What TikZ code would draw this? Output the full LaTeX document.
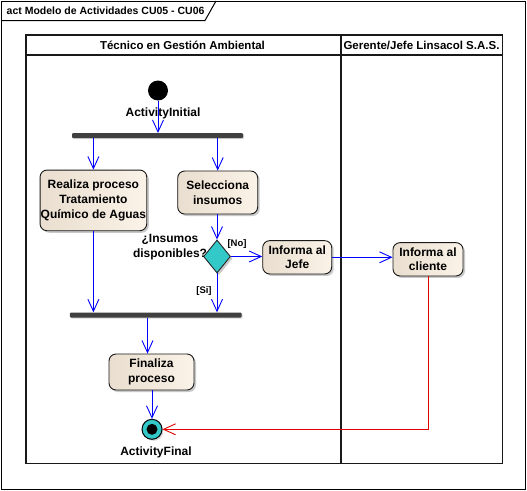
\documentclass[tikz,border=0pt]{standalone}
\usepackage{fontspec}
\setmainfont{Liberation Sans}
\usetikzlibrary{arrows.meta,shapes.geometric,shadows,calc}
\definecolor{actL}{HTML}{E9DECF}
\definecolor{actR}{HTML}{FBF3E8}
\definecolor{tealc}{HTML}{33C9C9}
\definecolor{barc}{HTML}{404040}
\definecolor{flowblue}{HTML}{0000FF}
\definecolor{flowred}{HTML}{E00000}
\begin{document}
\begin{tikzpicture}[x=1pt,y=-1pt,
  lbl/.style={font=\bfseries\fontsize{12}{14.8}\selectfont, align=center, inner sep=0},
  lanelbl/.style={font=\bfseries\fontsize{11.5}{13}\selectfont, inner sep=0},
  smalllbl/.style={font=\bfseries\fontsize{9.5}{11}\selectfont, inner sep=0},
  act/.style={draw=black!90, line width=0.9pt, rounded corners=7pt, left color=actL, right color=actR, lbl,
    drop shadow={shadow xshift=2pt, shadow yshift=-2pt, fill=black!35, opacity=0.6}},
  bar/.style={fill=barc, draw=none, inner sep=0, rounded corners=1pt, minimum height=5pt,
    drop shadow={shadow xshift=1pt, shadow yshift=-1pt, fill=black!30, opacity=0.5}},
  flow/.style={draw=flowblue, line width=0.9pt, -{Straight Barb[length=12pt,width=11pt]}},
  rflow/.style={draw=flowred, line width=0.9pt, -{Straight Barb[length=12pt,width=11pt]}},
  lane/.style={line width=1.1pt, draw=black!90}
]
\useasboundingbox (0,0) rectangle (527,490);
\fill[white] (0,0) rectangle (527,490);
% frame
\draw[line width=1pt] (1,1) rectangle (525.5,489);
\draw[line width=1pt] (1,20.5) -- (205,20.5) -- (216,1);
\node[anchor=west, font=\bfseries\fontsize{10.5}{12}\selectfont, inner sep=0] (title) at (6.5,11) {act Modelo de Actividades CU05 - CU06};
% lanes
\draw[lane] (26,35) rectangle (502.5,463.5);
\draw[lane] (26,55) -- (502.5,55);
\draw[lane] (341,35) -- (341,463.5);
\node[lanelbl] (lane1) at (182.5,45.5) {Técnico en Gestión Ambiental};
\node[lanelbl] (lane2) at (421.5,45.5) {Gerente/Jefe Linsacol S.A.S.};
% nodes
\node[circle, fill=black, minimum size=20pt, inner sep=0] (init) at (158,90.5) {};
\node[lbl, anchor=center] (initlbl) at (163,113) {ActivityInitial};
\node[bar, minimum width=171pt] (fork1) at (157.5,135.7) {};
\node[act, minimum width=106.7pt, minimum height=60.7pt] (realiza) at (93.4,200.4) {Realiza proceso\\Tratamiento\\Químico de Aguas};
\node[act, minimum width=80pt, minimum height=43pt] (selecciona) at (217.7,192.5) {Selecciona\\insumos};
\node[diamond, draw=black!85, line width=0.9pt, fill=tealc, minimum width=27pt, minimum height=33pt, inner sep=0,
  drop shadow={shadow xshift=2pt, shadow yshift=-2pt, fill=black!35, opacity=0.6}] (dec) at (217,256.5) {};
\node[lbl] (declbl) at (170,247) {¿Insumos\\disponibles?};
\node[act, minimum width=69pt, minimum height=33.3pt] (jefe) at (297.2,257.3) {Informa al\\Jefe};
\node[act, minimum width=70pt, minimum height=33.3pt] (cliente) at (428,259.3) {Informa al\\cliente};
\node[bar, minimum width=171.7pt] (join) at (155.8,315) {};
\node[act, minimum width=85pt, minimum height=36pt] (finaliza) at (151.5,372) {Finaliza\\proceso};
\node[circle, draw=black, line width=1pt, fill=tealc, minimum size=20pt, inner sep=0,
  drop shadow={shadow xshift=1.5pt, shadow yshift=-1.5pt, fill=black!30, opacity=0.5}] (final) at (152,429.3) {};
\fill[black] (final.center) circle (5.5);
\node[lbl] (finallbl) at (156,452.5) {ActivityFinal};
\node[smalllbl] (nolbl) at (237,244) {[No]};
\node[smalllbl] (silbl) at (204,290.7) {[Si]};
% connectors
\draw[flow] (init.south) -- (init.south |- fork1.north);
\draw[flow] (fork1.south -| realiza.north) -- (realiza.north);
\draw[flow] (fork1.south -| selecciona.north) -- (selecciona.north);
\draw[flow] (selecciona.south -| dec.north) -- (dec.north);
\draw[flow] (dec.east) -- (dec.east -| jefe.west);
\draw[flow] (dec.south) -- (dec.south |- join.north);
\draw[flow] (realiza.south) -- (realiza.south |- join.north);
\draw[flow] (jefe.east) -- (jefe.east -| cliente.west);
\draw[flow] ([xshift=-4pt]finaliza.north |- join.south) -- ([xshift=-4pt]finaliza.north);
\draw[flow] (finaliza.south -| final.north) -- (final.north);
\draw[rflow] (cliente.south) |- (final.east);
\end{tikzpicture}
\end{document}
